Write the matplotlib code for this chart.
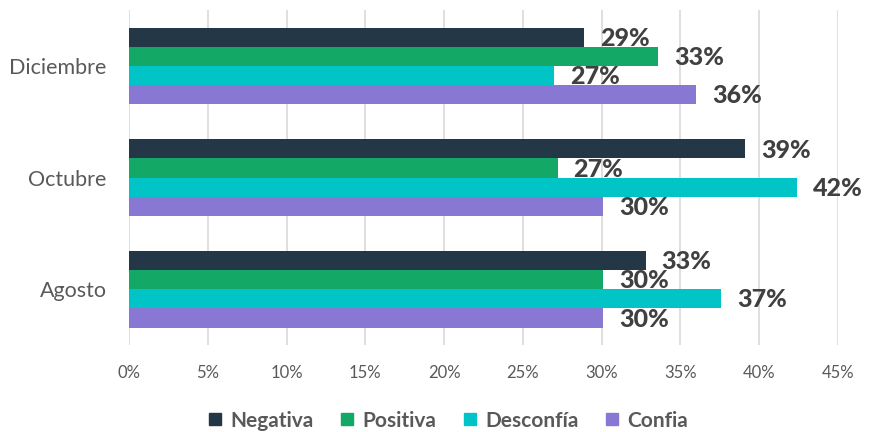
import numpy as np
import matplotlib
matplotlib.use("Agg")
import matplotlib.pyplot as plt
from matplotlib.lines import Line2D

plt.rcParams["font.family"] = ["Lato", "DejaVu Sans"]

# data (percent), groups listed bottom -> top
months = ["Agosto", "Octubre", "Diciembre"]
series = ["Negativa", "Positiva", "Desconfía", "Confia"]
negativa  = [32.8, 39.1, 28.9]
positiva  = [30.1, 27.2, 33.6]
desconfia = [37.6, 42.4, 27.0]
confia    = [30.1, 30.1, 36.0]
labels = {
    "Negativa":  ["33%", "39%", "29%"],
    "Positiva":  ["30%", "27%", "33%"],
    "Desconfía": ["37%", "42%", "27%"],
    "Confia":    ["30%", "30%", "36%"],
}
values = {"Negativa": negativa, "Positiva": positiva,
          "Desconfía": desconfia, "Confia": confia}
colors = {"Negativa": "#243746", "Positiva": "#14a866",
          "Desconfía": "#00c4c6", "Confia": "#8878d4"}

INK = "#404040"
MUTED = "#595959"

fig = plt.figure(figsize=(8.72, 4.32), dpi=100)
ax = fig.add_axes([0.148, 0.201, 0.813, 0.776])

y = np.arange(len(months))
h = 0.171
# top bar in each group is Negativa
offsets = [1.5 * h, 0.5 * h, -0.5 * h, -1.5 * h]
for s, off in zip(series, offsets):
    ax.barh(y + off, values[s], height=h, color=colors[s], zorder=2)
    for yi, v, lab in zip(y, values[s], labels[s]):
        ax.text(v + 1.0, yi + off - 0.01, lab, va="center", ha="left",
                fontsize=18, fontweight="black", color=INK, zorder=3)

ax.set_xlim(0, 45)
ax.set_ylim(-0.5, 2.5)
ax.set_xticks(np.arange(0, 46, 5))
ax.set_xticklabels([f"{t}%" for t in range(0, 46, 5)])
ax.set_yticks(y)
ax.set_yticklabels(months)
ax.tick_params(axis="x", length=0, labelsize=12, labelcolor=MUTED, pad=14)
ax.tick_params(axis="y", length=0, labelsize=15.5, labelcolor=MUTED, pad=16)
ax.grid(axis="x", color="#d9d9d9", linewidth=1.2, zorder=0)
ax.set_axisbelow(True)
for sp in ax.spines.values():
    sp.set_visible(False)

handles = [Line2D([], [], marker="s", linestyle="none", markersize=9,
                  markerfacecolor=colors[s], markeredgecolor=colors[s])
           for s in series]
leg = fig.legend(handles, series, loc="center", bbox_to_anchor=(0.513, 0.026),
                 ncol=4, frameon=False, handlelength=0.8, handletextpad=0.35,
                 columnspacing=1.2, prop={"size": 15, "weight": "bold"})
for t in leg.get_texts():
    t.set_color(MUTED)

fig.savefig("out.png", dpi=100)
